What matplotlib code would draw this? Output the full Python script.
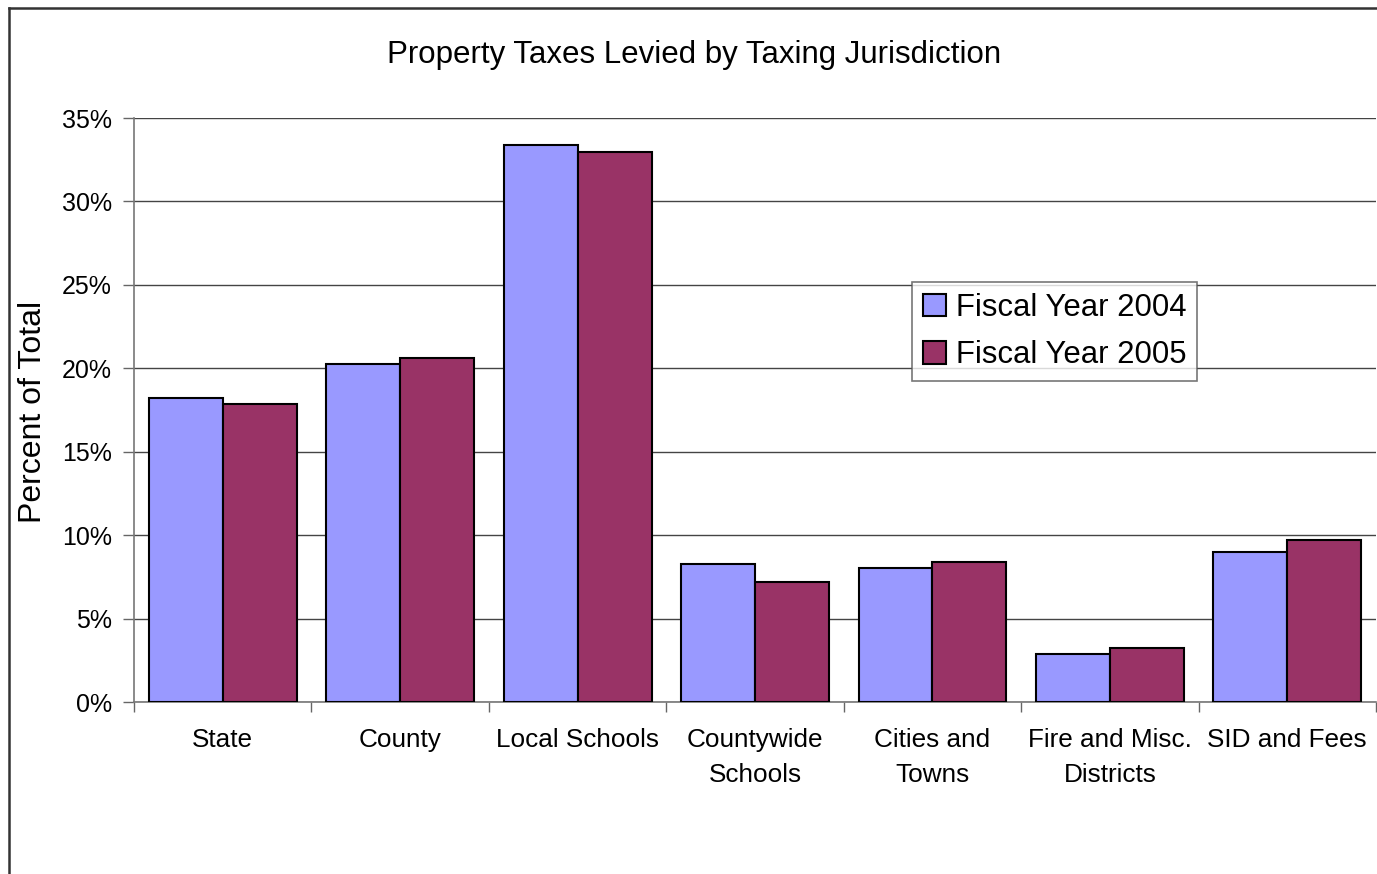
import numpy as np
import matplotlib.pyplot as plt
from matplotlib.lines import Line2D
from matplotlib.ticker import PercentFormatter

plt.rcParams['font.family'] = ['Liberation Sans', 'DejaVu Sans']

# data
categories = ["State", "County", "Local Schools", "Countywide\nSchools",
              "Cities and\nTowns", "Fire and Misc.\nDistricts", "SID and Fees"]
fy2004 = [18.2, 20.25, 33.4, 8.27, 8.03, 2.88, 8.99]
fy2005 = [17.85, 20.6, 32.95, 7.19, 8.39, 3.24, 9.71]
yticks = [0, 5, 10, 15, 20, 25, 30, 35]

fig = plt.figure(figsize=(13.77, 8.74), dpi=100)
ax = fig.add_axes([134/1377, 1-702/874, 1242/1377, 584/874])

x = np.arange(len(categories))
w = 1/2.4
ax.bar(x - w/2, fy2004, w, color='#9999FF', edgecolor='black', linewidth=1.5,
       label='Fiscal Year 2004', zorder=3)
ax.bar(x + w/2, fy2005, w, color='#993366', edgecolor='black', linewidth=1.5,
       label='Fiscal Year 2005', zorder=3)

ax.set_xlim(-0.5, len(categories) - 0.5)
ax.set_ylim(0, 35)
ax.set_yticks(yticks)
ax.yaxis.set_major_formatter(PercentFormatter(decimals=0))
ax.grid(axis='y', color='#444444', linewidth=1, zorder=0)

ax.set_xticks(x)
ax.set_xticklabels(categories, fontsize=18.8, linespacing=1.55)
ax.set_xticks(np.arange(-0.5, len(categories)), minor=True)
ax.tick_params(axis='x', which='major', length=0, pad=19)
ax.tick_params(axis='x', which='minor', length=7, width=1, color='#666666')
ax.tick_params(axis='y', length=8, width=1, color='#666666', labelsize=18, pad=8)

for s in ['top', 'right']:
    ax.spines[s].set_visible(False)
for s in ['left', 'bottom']:
    ax.spines[s].set_color('#777777')
    ax.spines[s].set_linewidth(1.2)

ax.set_ylabel("Percent of Total", fontsize=23)
ax.yaxis.set_label_coords(48/1377, 1-412/874, transform=fig.transFigure)
fig.text(694/1377, 1-55/874, "Property Taxes Levied by Taxing Jurisdiction",
         ha='center', va='center', fontsize=22.5)

leg = ax.legend(loc='upper left', bbox_to_anchor=(912/1377, 1-282/874),
                bbox_transform=fig.transFigure, fontsize=22.4, frameon=True,
                fancybox=False, edgecolor='#555555', handlelength=0.75,
                handleheight=0.75, handletextpad=0.3, borderpad=0.35,
                labelspacing=0.55, borderaxespad=0)
leg.get_frame().set_linewidth(1.2)

# outer chart border (cut off at right and bottom)
fig.add_artist(Line2D([9/1377, 9/1377], [0, 1-8/874], transform=fig.transFigure,
                      color='#333333', linewidth=1.8))
fig.add_artist(Line2D([9/1377, 1], [1-8/874, 1-8/874], transform=fig.transFigure,
                      color='#333333', linewidth=1.8))

fig.savefig('out.png', dpi=100)
